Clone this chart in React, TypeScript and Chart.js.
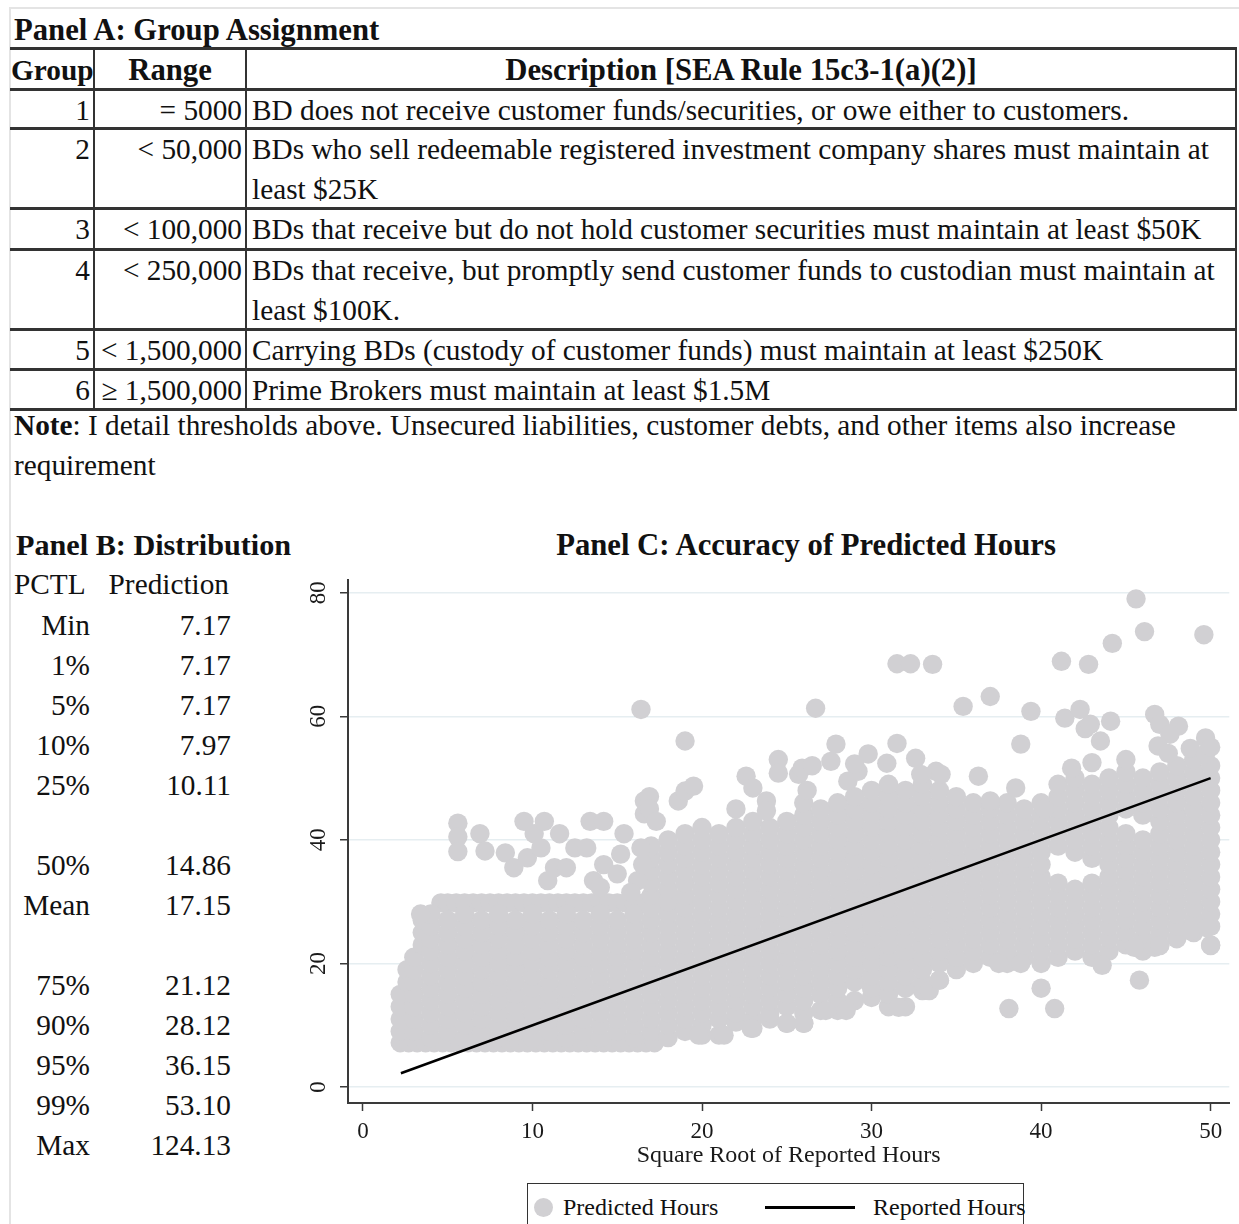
import React, { useEffect, useRef } from "react";
import { Chart, registerables } from "chart.js";

Chart.register(...registerables);

const FONT = '"Liberation Serif", "Times New Roman", serif';

// ---------- Panel A data ----------
const groupIds = ["1", "2", "3", "4", "5", "6"];
const groupRanges = ["= 5000", "< 50,000", "< 100,000", "< 250,000", "< 1,500,000", "\u2265 1,500,000"];
const groupDescriptions: string[][] = [
  ["BD does not receive customer funds/securities, or owe either to customers."],
  ["BDs who sell redeemable registered investment company shares must maintain at", "least $25K"],
  ["BDs that receive but do not hold customer securities must maintain at least $50K"],
  ["BDs that receive, but promptly send customer funds to custodian must maintain at", "least $100K."],
  ["Carrying BDs (custody of customer funds) must maintain at least $250K"],
  ["Prime Brokers must maintain at least $1.5M"],
];

// ---------- Panel B data ----------
const pctlLabels = ["Min", "1%", "5%", "10%", "25%", "", "50%", "Mean", "", "75%", "90%", "95%", "99%", "Max"];
const pctlValues = ["7.17", "7.17", "7.17", "7.97", "10.11", "", "14.86", "17.15", "", "21.12", "28.12", "36.15", "53.10", "124.13"];

// ---------- Panel C data ----------
const xTicks = [0, 10, 20, 30, 40, 50];
const yTicks = [0, 20, 40, 60, 80];
const reportedX = [2.24, 50];
const reportedY = [2.24, 50];

// floor of the predictions (minimum = 7.17) along the x axis
const floorY = 7.17;
const floorX = [2.2, 2.7, 3.2, 3.7, 4.2, 4.7, 5.2, 5.7, 6.2, 6.7, 7.2, 7.7, 8.2, 8.7, 9.2, 9.7, 10.2, 10.7, 11.2, 11.7, 12.2, 12.7, 13.2, 13.7, 14.2, 14.7, 15.2, 15.7, 16.2, 16.7, 17.2];
// flat cap of predictions for small reported hours
const capY = 29.8;
const capX = [4.6, 5, 5.5, 6, 6.5, 7, 7.5, 8, 8.5, 9, 9.5, 10, 10.5, 11, 11.5, 12, 12.5, 13, 13.5, 14, 14.5, 15, 15.5, 16, 16.5, 17, 17.5, 18, 18.5, 19];

// dense body of predicted hours, column by column: [x, y values]
const predictedColumns: [number, number[]][] = [
  [2.2, [9, 11, 13, 15]],
  [2.6, [17, 19]],
  [3, [9, 11, 13, 15, 17, 19, 21]],
  [3.5, [23, 25, 27]],
  [4, [8, 10, 12, 14, 16, 18, 20, 22, 24, 26, 28]],
  [5, [9, 11, 13, 15, 17, 19, 21, 23, 25, 27]],
  [6, [8, 10, 12, 14, 16, 18, 20, 22, 24, 26, 28]],
  [7, [9, 11, 13, 15, 17, 19, 21, 23, 25, 27]],
  [8, [8, 10, 12, 14, 16, 18, 20, 22, 24, 26, 28]],
  [9, [9, 11, 13, 15, 17, 19, 21, 23, 25, 27]],
  [10, [8, 10, 12, 14, 16, 18, 20, 22, 24, 26, 28]],
  [11, [9, 11, 13, 15, 17, 19, 21, 23, 25, 27]],
  [12, [8, 10, 12, 14, 16, 18, 20, 22, 24, 26, 28]],
  [13, [9, 11, 13, 15, 17, 19, 21, 23, 25, 27]],
  [14, [8, 10, 12, 14, 16, 18, 20, 22, 24, 26, 28]],
  [15, [9, 11, 13, 15, 17, 19, 21, 23, 25, 27]],
  [16, [8, 10, 12, 14, 16, 18, 20, 22, 24, 26, 28]],
  [17, [9, 11, 13, 15, 17, 19, 21, 23, 25, 27, 29, 31, 33, 35, 37, 39]],
  [18, [8, 10, 12, 14, 16, 18, 20, 22, 24, 26, 28, 30, 32, 34, 36, 38, 40]],
  [19, [9, 11, 13, 15, 17, 19, 21, 23, 25, 27, 29, 31, 33, 35, 37, 39, 41]],
  [20, [8.4, 10, 12, 14, 16, 18, 20, 22, 24, 26, 28, 30, 32, 34, 36, 38, 40, 42]],
  [21, [8.4, 11, 13, 15, 17, 19, 21, 23, 25, 27, 29, 31, 33, 35, 37, 39, 41]],
  [22, [10.5, 12, 14, 16, 18, 20, 22, 24, 26, 28, 30, 32, 34, 36, 38, 40, 42]],
  [23, [9.5, 11, 13, 15, 17, 19, 21, 23, 25, 27, 29, 31, 33, 35, 37, 39, 41, 43]],
  [24, [11, 12, 14, 16, 18, 20, 22, 24, 26, 28, 30, 32, 34, 36, 38, 40, 42]],
  [25, [10.3, 13, 15, 17, 19, 21, 23, 25, 27, 29, 31, 33, 35, 37, 39, 41, 43]],
  [26, [10.3, 12, 14, 16, 18, 20, 22, 24, 26, 28, 30, 32, 34, 36, 38, 40, 42, 44, 46]],
  [27, [12.4, 15, 17, 19, 21, 23, 25, 27, 29, 31, 33, 35, 37, 39, 41, 43, 45]],
  [28, [12.4, 14, 16, 18, 20, 22, 24, 26, 28, 30, 32, 34, 36, 38, 40, 42, 44, 46]],
  [29, [14, 17, 19, 21, 23, 25, 27, 29, 31, 33, 35, 37, 39, 41, 43, 45, 47]],
  [30, [14.5, 16, 18, 20, 22, 24, 26, 28, 30, 32, 34, 36, 38, 40, 42, 44, 46, 48]],
  [31, [13, 15, 17, 19, 21, 23, 25, 27, 29, 31, 33, 35, 37, 39, 41, 43, 45, 47, 49]],
  [32, [13, 16, 18, 20, 22, 24, 26, 28, 30, 32, 34, 36, 38, 40, 42, 44, 46, 48]],
  [33, [15.6, 17, 19, 21, 23, 25, 27, 29, 31, 33, 35, 37, 39, 41, 43, 45, 47, 49]],
  [34, [17.3, 20, 22, 24, 26, 28, 30, 32, 34, 36, 38, 40, 42, 44, 46, 48]],
  [35, [19, 21, 23, 25, 27, 29, 31, 33, 35, 37, 39, 41, 43, 45, 47]],
  [36, [20, 22, 24, 26, 28, 30, 32, 34, 36, 38, 40, 42, 44, 46]],
  [37, [21, 23, 25, 27, 29, 31, 33, 35, 37, 39, 41, 43, 45]],
  [38, [20, 22, 24, 26, 28, 30, 32, 34, 36, 38, 40, 42, 44, 46]],
  [39, [21, 23, 25, 27, 29, 31, 33, 35, 37, 39, 41, 43, 45]],
  [40, [20, 22, 24, 26, 28, 30, 32, 34, 36, 38, 40, 42, 44, 46]],
  [41, [21, 23, 25, 27, 29, 31, 33, 39, 41, 43, 45, 47, 49]],
  [42, [22, 24, 26, 28, 30, 32, 38, 40, 42, 44, 46, 48, 50]],
  [43, [21, 23, 25, 27, 29, 31, 33, 37, 39, 41, 43, 45, 47, 49]],
  [44, [22, 24, 26, 28, 30, 32, 34, 36, 38, 40, 42, 44, 46, 48, 50]],
  [45, [23, 25, 27, 29, 31, 33, 35, 37, 39, 41, 45, 47, 49, 51]],
  [46, [22, 24, 26, 28, 30, 32, 34, 36, 38, 40, 44, 46, 48, 50]],
  [47, [23, 25, 27, 29, 31, 33, 35, 37, 39, 41, 43, 45, 47, 49, 51]],
  [48, [24, 26, 28, 30, 32, 34, 36, 38, 40, 42, 44, 46, 48, 50, 52]],
  [49, [25, 27, 29, 31, 33, 35, 37, 39, 41, 43, 45, 47, 49, 51, 53]],
  [50, [23, 26, 28, 30, 32, 34, 36, 38, 40, 42, 44, 46, 48, 50, 52]],
];

// scattered predictions outside the dense body: [x, y]
const predictedScattered: [number, number][] = [
  [3.4, 28], [5.6, 42.7], [5.6, 40.5], [5.6, 38.1], [6.9, 41], [7.2, 38.2], [8.4, 37.9], [8.9, 35.5],
  [9.7, 37.1], [10.1, 41], [9.5, 43], [10.7, 43], [10.9, 33.4], [10.5, 38.7], [11.3, 35.5], [11.6, 41],
  [12, 35.5], [12.5, 38.7], [13.2, 38.7], [13.6, 33.4], [13.4, 43], [14.2, 43], [14.2, 36], [14, 32.3],
  [15.4, 41], [15.2, 37.7], [15, 34.5], [16.6, 44.2], [16.6, 46.3], [16.4, 38.7], [16.2, 33.4], [15.8, 31.5],
  [16.5, 36], [16.9, 47], [16.9, 45], [17.3, 43], [18.6, 46.3], [19, 47.9], [19.5, 48.7], [19, 56],
  [16.4, 61.1], [22, 45], [22.6, 50.3], [23, 48.4], [23.8, 46.3], [23.8, 44.7], [24.5, 53], [24.5, 50.8],
  [25.7, 50.6], [25.9, 51.6], [26.5, 52], [26.2, 48], [26.7, 61.3], [27.9, 55.5], [27.6, 52.7], [28.6, 49.5],
  [29.2, 51.1], [29.8, 53.9], [29, 52.3], [30.9, 52.4], [31.5, 55.6], [32.6, 53.2], [32.9, 50.6], [33.8, 51.1],
  [34.1, 50.6], [36.3, 50.3], [37, 46.3], [38.5, 48.4], [40.2, 45], [38.8, 55.5], [35.4, 61.6], [37, 63.2],
  [39.4, 60.8], [31.5, 68.5], [32.3, 68.5], [33.6, 68.4], [41.2, 68.9], [42.8, 68.4], [44.2, 71.8], [45.6, 79],
  [46.1, 73.7], [49.6, 73.2], [41.4, 59.7], [42.3, 61.1], [42.6, 58], [42.9, 58.7], [43.5, 56], [44.1, 59.2],
  [46.7, 60.3], [47, 58.7], [48.1, 58.4], [47.6, 57.1], [46.9, 55.2], [48.8, 54.8], [49.7, 56.5], [49.7, 53.9],
  [41.8, 51.6], [43, 52.5], [45, 53], [47.5, 54], [50, 55],
  [19.8, 8.4], [21.3, 8.4], [22.9, 9.5], [25, 10.3], [26, 10.3], [27.3, 12.4], [28.5, 12.4], [31.6, 12.9],
  [33.4, 15.6], [34, 17.3], [37.5, 20], [38.8, 20], [38.1, 12.7], [40, 16], [40.8, 12.7], [43.6, 19.7],
  [45.8, 17.3], [45.5, 22.6], [46.7, 22.6], [47, 22.9], [50, 22.9], [48.8, 25.3], [49.8, 25.8],
];

const POINT_GRAY = "#d1d0d3";

function ScatterPanel() {
  const ref = useRef<HTMLCanvasElement>(null);
  useEffect(() => {
    if (!ref.current) return;
    const predicted: { x: number; y: number }[] = [];
    floorX.forEach((x) => predicted.push({ x, y: floorY }));
    capX.forEach((x) => predicted.push({ x, y: capY }));
    predictedColumns.forEach(([x, ys]) => ys.forEach((y) => predicted.push({ x, y })));
    predictedScattered.forEach(([x, y]) => predicted.push({ x, y }));
    const reported = reportedX.map((x, i) => ({ x, y: reportedY[i] }));

    const chart = new Chart(ref.current, {
      type: "scatter",
      data: {
        datasets: [
          {
            label: "Predicted Hours",
            data: predicted,
            pointRadius: 9.7,
            pointHoverRadius: 9.7,
            pointBackgroundColor: POINT_GRAY,
            pointBorderWidth: 0,
            borderWidth: 0,
            order: 1,
          },
          {
            label: "Reported Hours",
            data: reported,
            showLine: true,
            borderColor: "#000000",
            borderWidth: 2.5,
            pointRadius: 0,
            pointHoverRadius: 0,
            order: 0,
          } as any,
        ],
      },
      options: {
        responsive: false,
        animation: false,
        devicePixelRatio: 1,
        layout: { padding: { top: 8, right: 7, left: 0, bottom: 0 } },
        plugins: { legend: { display: false }, tooltip: { enabled: false } },
        scales: {
          x: {
            type: "linear",
            min: -0.88,
            max: 51.1,
            afterBuildTicks: (scale: any) => {
              scale.ticks = xTicks.map((v) => ({ value: v }));
            },
            afterFit: (scale: any) => {
              scale.height = 67;
              scale.paddingLeft = 0;
              scale.paddingRight = 0;
            },
            grid: {
              color: "rgba(0,0,0,0)",
              drawTicks: true,
              tickLength: 8,
              tickColor: "#3a3a3a",
              tickWidth: 1.5,
            },
            border: { display: true, color: "#3a3a3a", width: 2 },
            ticks: {
              font: { family: FONT, size: 23 },
              color: "#1a1a1a",
              padding: 7,
              maxRotation: 0,
              autoSkip: false,
            },
            title: {
              display: true,
              text: "Square Root of Reported Hours",
              font: { family: FONT, size: 24 },
              color: "#1a1a1a",
              padding: { top: 0, bottom: 0 },
            },
          },
          y: {
            type: "linear",
            min: -2.58,
            max: 82.1,
            afterBuildTicks: (scale: any) => {
              scale.ticks = yTicks.map((v) => ({ value: v }));
            },
            afterFit: (scale: any) => {
              scale.width = 58;
              scale.paddingTop = 0;
              scale.paddingBottom = 0;
            },
            grid: {
              color: "#e6eef1",
              lineWidth: 1.5,
              drawTicks: true,
              tickLength: 8,
              tickColor: "#3a3a3a",
              tickWidth: 1.5,
            },
            border: { display: true, color: "#3a3a3a", width: 2 },
            ticks: {
              font: { family: FONT, size: 23 },
              color: "#1a1a1a",
              padding: 10,
              minRotation: 90,
              maxRotation: 90,
              crossAlign: "center",
              autoSkip: false,
            },
          },
        },
      },
    });
    return () => chart.destroy();
  }, []);
  return (
    <canvas
      ref={ref}
      width={949}
      height={600}
      style={{ position: "absolute", left: 290, top: 570, width: 949, height: 600 }}
    />
  );
}

const TXT = 29.3;
const BOLD = 30.7;

function Abs(props: { left?: number; top: number; width?: number; align?: "left" | "right" | "center"; bold?: boolean; size?: number; lh?: number; children: React.ReactNode }) {
  const { left = 0, top, width, align = "left", bold, size, lh = 40, children } = props;
  return (
    <div
      style={{
        position: "absolute",
        left,
        top,
        width,
        textAlign: align,
        fontWeight: bold ? "bold" : "normal",
        fontSize: size ?? (bold ? BOLD : TXT),
        lineHeight: `${lh}px`,
        whiteSpace: "nowrap",
      }}
    >
      {children}
    </div>
  );
}

const rowTops = [89, 128, 208, 249, 329, 369];
const hLines = [48, 89, 128, 208, 249, 329, 369, 409];
const vLines = [94, 246, 1236];

export default function App() {
  return (
    <div
      style={{
        position: "absolute",
        left: 0,
        top: 0,
        width: 1239,
        height: 1224,
        overflow: "hidden",
        background: "#ffffff",
        fontFamily: FONT,
        color: "#111111",
      }}
    >
      {/* light frame */}
      <div style={{ position: "absolute", left: 9, top: 7, width: 1230, height: 2, background: "#e4e4e4" }} />
      <div style={{ position: "absolute", left: 9, top: 7, width: 2, height: 1217, background: "#e4e4e4" }} />

      {/* Panel A */}
      <Abs left={14} top={10} bold>Panel A: Group Assignment</Abs>
      {hLines.map((y) => (
        <div key={"h" + y} style={{ position: "absolute", left: 10, top: y - 1.5, width: 1227, height: 3, background: "#333" }} />
      ))}
      {vLines.map((x) => (
        <div key={"v" + x} style={{ position: "absolute", left: x - 1, top: 48, width: 2, height: 361, background: "#333" }} />
      ))}
      <Abs left={11} top={50} bold size={29.3}>Group</Abs>
      <Abs left={94} top={50} width={152} align="center" bold>Range</Abs>
      <Abs left={246} top={50} width={990} align="center" bold>Description [SEA Rule 15c3-1(a)(2)]</Abs>
      {groupIds.map((g, i) => (
        <React.Fragment key={g}>
          <Abs left={0} top={rowTops[i] + 1} width={90} align="right">{g}</Abs>
          <Abs left={94} top={rowTops[i] + 1} width={148} align="right">{groupRanges[i]}</Abs>
          <Abs left={252} top={rowTops[i] + 1}>
            {groupDescriptions[i].map((line, j) => (
              <div key={j}>{line}</div>
            ))}
          </Abs>
        </React.Fragment>
      ))}
      <Abs left={14} top={405}>
        <div><b>Note</b>: I detail thresholds above. Unsecured liabilities, customer debts, and other items also increase</div>
        <div>requirement</div>
      </Abs>

      {/* Panel B */}
      <Abs left={16} top={525} bold size={30.2}>Panel B: Distribution</Abs>
      <Abs left={14} top={564}>PCTL</Abs>
      <Abs left={100} top={564} width={129} align="right">Prediction</Abs>
      {pctlLabels.map((lab, i) => (
        <React.Fragment key={"p" + i}>
          <Abs left={0} top={605 + 40 * i} width={90} align="right">{lab}</Abs>
          <Abs left={120} top={605 + 40 * i} width={111} align="right">{pctlValues[i]}</Abs>
        </React.Fragment>
      ))}

      {/* Panel C */}
      <Abs left={406} top={525} width={800} align="center" bold>Panel C: Accuracy of Predicted Hours</Abs>
      <ScatterPanel />

      {/* legend */}
      <div style={{ position: "absolute", left: 527, top: 1183, width: 497, height: 60, border: "1.5px solid #333", boxSizing: "border-box" }} />
      <div style={{ position: "absolute", left: 534, top: 1198, width: 19, height: 19, borderRadius: "50%", background: POINT_GRAY }} />
      <Abs left={563} top={1192} size={24} lh={30}>Predicted Hours</Abs>
      <div style={{ position: "absolute", left: 765, top: 1206, width: 90, height: 2.5, background: "#000" }} />
      <Abs left={873} top={1192} size={24} lh={30}>Reported Hours</Abs>
    </div>
  );
}
